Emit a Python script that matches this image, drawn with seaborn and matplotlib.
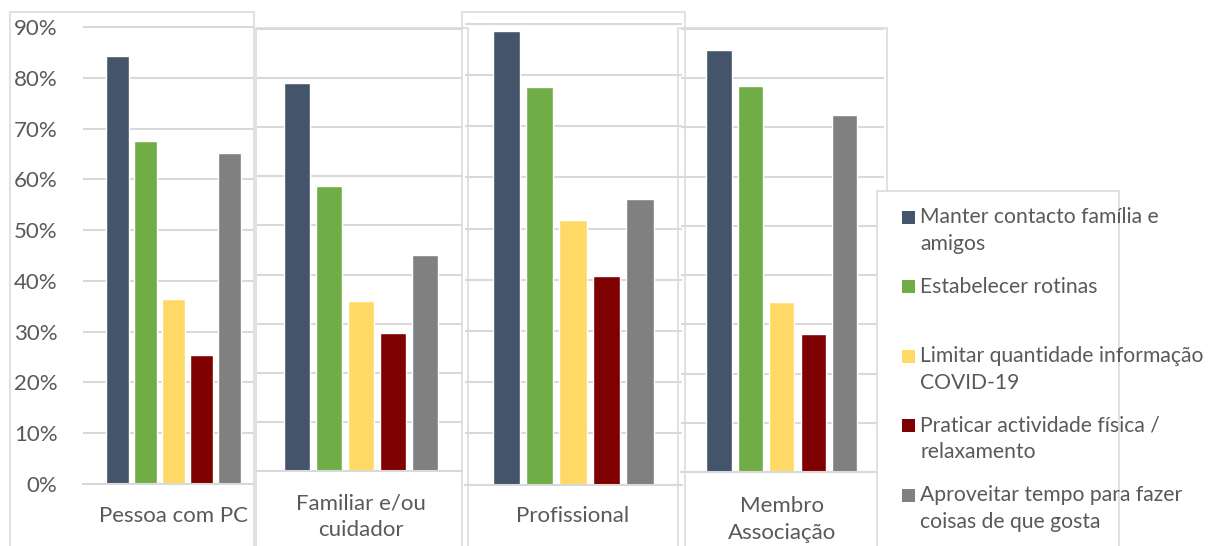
import matplotlib
matplotlib.use("Agg")
import matplotlib.pyplot as plt
from matplotlib.patches import Rectangle
from matplotlib.ticker import PercentFormatter
import pandas as pd
import seaborn as sns

# ---------------- data ----------------
grupos = ["Pessoa com PC", "Familiar e/ou\ncuidador", "Profissional", "Membro\nAssociação"]
series = [
    "Manter contacto família e\namigos",
    "Estabelecer rotinas",
    "Limitar quantidade informação\nCOVID-19",
    "Praticar actividade física /\nrelaxamento",
    "Aproveitar tempo para fazer\ncoisas de que gosta",
]
pessoa_pc = [84.3, 67.6, 36.5, 25.4, 65.1]
familiar = [79.1, 58.1, 34.7, 28.2, 43.9]
profissional = [88.6, 77.7, 51.6, 40.8, 55.8]
membro = [85.7, 78.4, 34.5, 28.0, 72.6]
yticks = [0, 10, 20, 30, 40, 50, 60, 70, 80, 90]

cores = ["#44546A", "#70AD47", "#FFD966", "#7F0000", "#808080"]
TXT = "#595959"
GRID = "#D9D9D9"

sns.set_theme(style="white")
plt.rcParams["font.family"] = ["Lato", "DejaVu Sans"]

W, H = 1208, 546
fig = plt.figure(figsize=(W / 100, H / 100), dpi=100)
fig.patch.set_facecolor("white")


def fbox(l, t, r, b):
    return [l / W, 1 - b / H, (r - l) / W, (b - t) / H]


# panel layout in pixels: left, right, top(90%), baseline(0%), xlim, gap
paineis = [
    (grupos[0], pessoa_pc, (82.5, 253, 26, 484), (-0.52, 0.454), 0.18, True, 15.5),
    (grupos[1], familiar, (257, 462, 28, 471), (-0.517, 0.502), 0.19, False, 16),
    (grupos[2], profissional, (464.7, 682, 22.6, 484.7), (-0.518, 0.521), 0.19, False, 15.5),
    (grupos[3], membro, (681, 884, 28, 472), (-0.514, 0.522), 0.20, False, 17),
]
caixas = [(10, 12, 253.5), (256, 28, 468), (462, 12, 685), (677.7, 28, 886.6)]

FS = 16
FSL = 15.2
for (nome, vals, (l, r, t, b), xl, gap, ylab, pad), (bl, bt, br) in zip(paineis, caixas):
    ax = fig.add_axes(fbox(l, t, r, b))
    df = pd.DataFrame({"grupo": [nome] * len(series), "serie": series,
                       "valor": [v / 100 for v in vals]})
    sns.barplot(data=df, x="grupo", y="valor", hue="serie", hue_order=series,
                palette=cores, saturation=1, width=0.8, gap=gap, errorbar=None,
                legend=False, ax=ax)
    ax.set_xlim(*xl)
    ax.set_ylim(0, 0.902)
    ax.set_yticks([v / 100 for v in yticks])
    ax.yaxis.set_major_formatter(PercentFormatter(1.0, decimals=0))
    ax.yaxis.grid(True, color=GRID, lw=1.5)
    ax.set_axisbelow(True)
    for s in ["top", "right", "left"]:
        ax.spines[s].set_visible(False)
    ax.spines["bottom"].set_color(GRID)
    ax.spines["bottom"].set_linewidth(1.5)
    ax.set_xlabel("")
    ax.set_ylabel("")
    ax.set_xticks([0], [nome])
    ax.set_xticks(list(xl), minor=True)
    ax.tick_params(axis="x", which="major", length=0, pad=pad, labelsize=FS,
                   labelcolor=TXT)
    ax.tick_params(axis="x", which="minor", length=6, width=1.4, color=GRID)
    for lbl in ax.get_xticklabels():
        lbl.set_linespacing(1.45)
    if ylab:
        ax.tick_params(axis="y", length=0, pad=18, labelsize=FS, labelcolor=TXT)
    else:
        ax.tick_params(axis="y", length=0, labelleft=False)
    ax.patch.set_alpha(0)
    # panel frame
    fig.patches.append(Rectangle((bl / W, -0.1), (br - bl) / W, 1.1 - bt / H,
                                 transform=fig.transFigure, fill=False,
                                 edgecolor=GRID, lw=1.1, zorder=2))

# legend panel
fig.patches.append(Rectangle((877 / W, -0.1), 0.2, 1.1 - 191 / H,
                             transform=fig.transFigure, facecolor="white",
                             edgecolor=GRID, lw=1.1, zorder=3))
for i, (s, c) in enumerate(zip(series, cores)):
    yb = 223.3 + 69.5 * i
    fig.patches.append(Rectangle((902 / W, 1 - (yb + 0.5) / H), 13 / W, 13 / H,
                                 transform=fig.transFigure, facecolor=c,
                                 edgecolor="none", zorder=4))
    for j, linha in enumerate(s.split("\n")):
        fig.text(920 / W, 1 - (yb + 26.5 * j) / H, linha, ha="left",
                 va="baseline", fontsize=FSL, color=TXT, zorder=5)

fig.savefig("out.png", dpi=100, facecolor="white")
